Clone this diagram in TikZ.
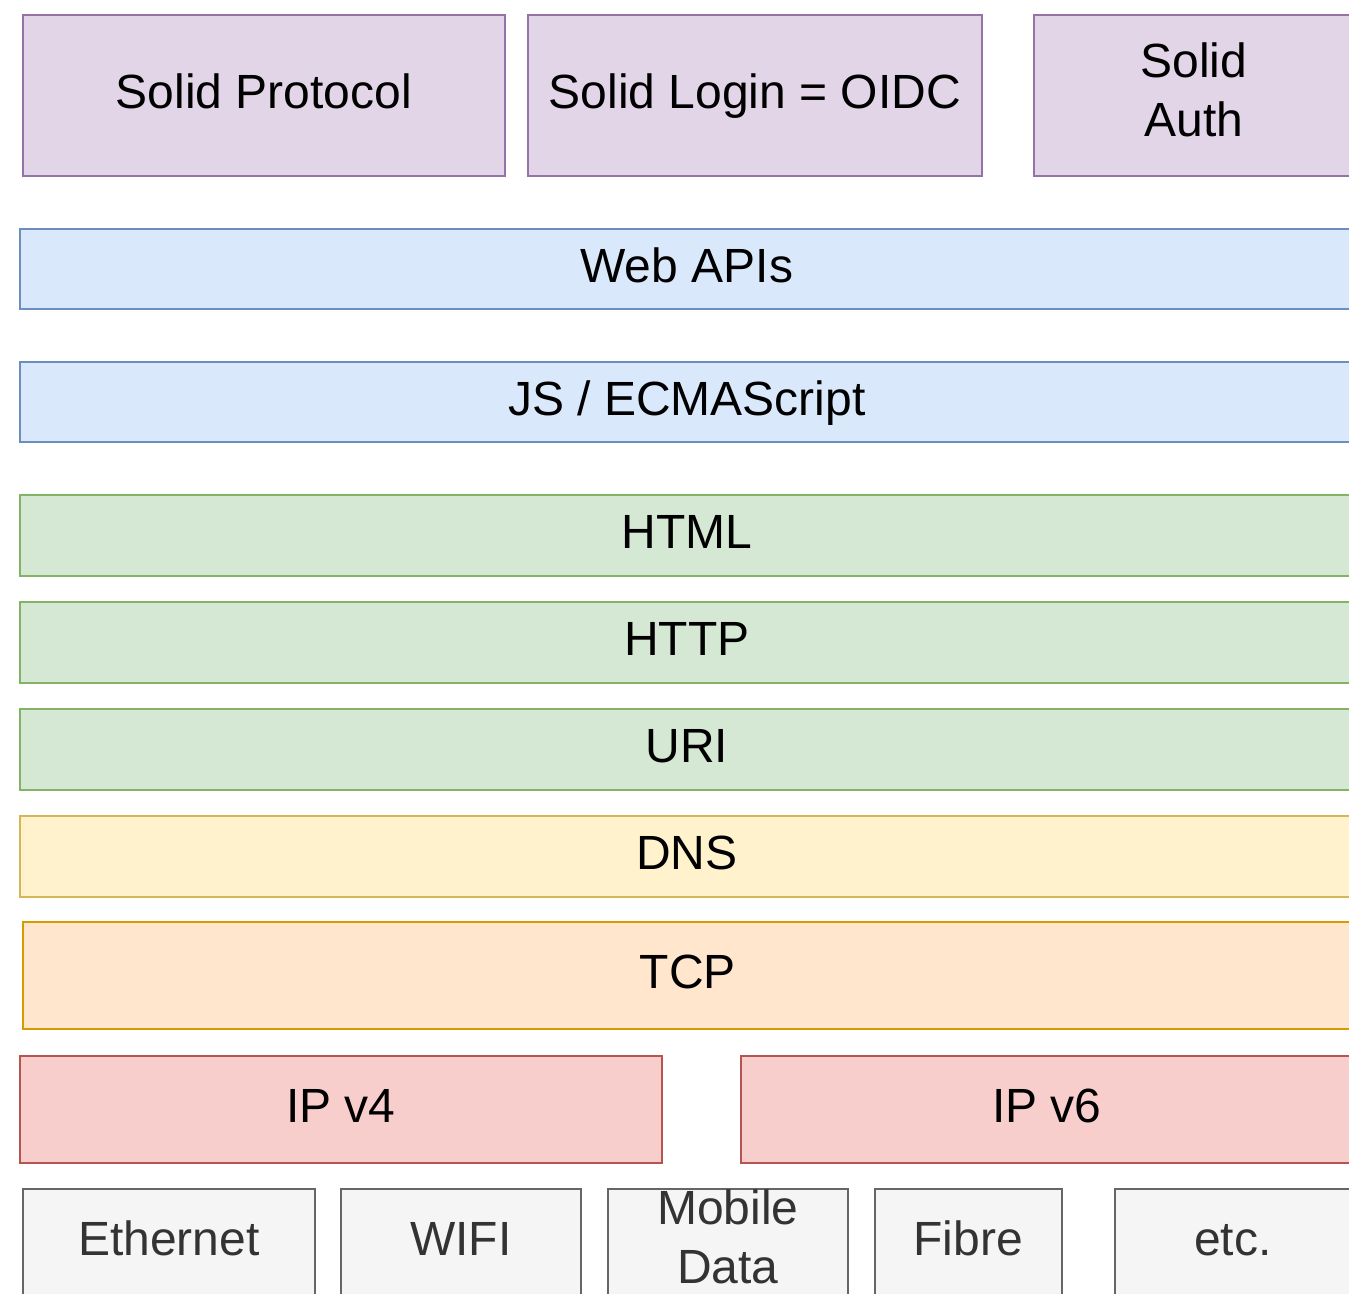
\documentclass[tikz,border=0pt]{standalone}
\usepackage{fontspec}
\setmainfont{Liberation Sans}
\usetikzlibrary{positioning}

\definecolor{purplefill}{HTML}{E1D5E7}
\definecolor{purpleline}{HTML}{9673A6}
\definecolor{bluefill}{HTML}{DAE8FC}
\definecolor{blueline}{HTML}{6C8EBF}
\definecolor{greenfill}{HTML}{D5E8D4}
\definecolor{greenline}{HTML}{82B366}
\definecolor{yellowfill}{HTML}{FFF2CC}
\definecolor{yellowline}{HTML}{D6B656}
\definecolor{orangefill}{HTML}{FFE6CC}
\definecolor{orangeline}{HTML}{D79B00}
\definecolor{redfill}{HTML}{F8CECC}
\definecolor{redline}{HTML}{B85450}
\definecolor{greyfill}{HTML}{F5F5F5}
\definecolor{greyline}{HTML}{666666}
\definecolor{greytext}{HTML}{333333}

\tikzset{
  layer/.style={draw, line width=0.8pt, anchor=north west, inner sep=0pt,
    align=center, font=\fontsize{24}{29.5}\selectfont,
    text height=18.5pt, text depth=5pt},
  twoline/.style={text height={}, text depth=6pt},
  purplebox/.style={layer, fill=purplefill, draw=purpleline},
  bluebox/.style={layer, fill=bluefill, draw=blueline},
  greenbox/.style={layer, fill=greenfill, draw=greenline},
  yellowbox/.style={layer, fill=yellowfill, draw=yellowline},
  orangebox/.style={layer, fill=orangefill, draw=orangeline},
  redbox/.style={layer, fill=redfill, draw=redline},
  greybox/.style={layer, fill=greyfill, draw=greyline, text=greytext}
}

\begin{document}
\begin{tikzpicture}[x=0.5pt, y=-0.5pt]
  \useasboundingbox[fill=white] (0,0) rectangle (1349,1294);
  \clip (0,0) rectangle (1349,1294);

  % Solid layer
  \node[purplebox, minimum width=241pt, minimum height=80.5pt] (protocol) at (22,14) {Solid Protocol};
  \node[purplebox, minimum width=227pt, minimum height=80.5pt] (login) at (527,14) {Solid Login = OIDC};
  \node[purplebox, twoline, minimum width=160pt, minimum height=80.5pt] (auth) at (1033,14) {Solid\\Auth};

  % web platform
  \node[bluebox, minimum width=667pt, minimum height=40pt] (webapi) at (19,228) {Web APIs};
  \node[bluebox, minimum width=667pt, minimum height=40pt] (js) at (19,361) {JS / ECMAScript};
  \node[greenbox, minimum width=667pt, minimum height=40.5pt] (html) at (19,494) {HTML};
  \node[greenbox, minimum width=667pt, minimum height=40.5pt] (http) at (19,601) {HTTP};
  \node[greenbox, minimum width=667pt, minimum height=40.5pt] (uri) at (19,708) {URI};

  % transport
  \node[yellowbox, minimum width=667pt, minimum height=40.5pt] (dns) at (19,815) {DNS};
  \node[orangebox, minimum width=665pt, minimum height=53.5pt] (tcp) at (22,921) {TCP};
  \node[redbox, minimum width=321pt, minimum height=53.5pt] (ipv4) at (19,1055) {IP v4};
  \node[redbox, minimum width=306pt, minimum height=53.5pt] (ipv6) at (740,1055) {IP v6};

  % links
  \node[greybox, minimum width=146pt, minimum height=53.5pt] (ethernet) at (22,1188) {Ethernet};
  \node[greybox, minimum width=120pt, minimum height=53.5pt] (wifi) at (340,1188) {WIFI};
  \node[greybox, twoline, minimum width=120pt, minimum height=53.5pt] (mobile) at (607,1188) {Mobile\\Data};
  \node[greybox, minimum width=93.5pt, minimum height=53.5pt] (fibre) at (874,1188) {Fibre};
  \node[greybox, minimum width=118pt, minimum height=53.5pt] (etc) at (1114,1188) {etc.};
\end{tikzpicture}
\end{document}
